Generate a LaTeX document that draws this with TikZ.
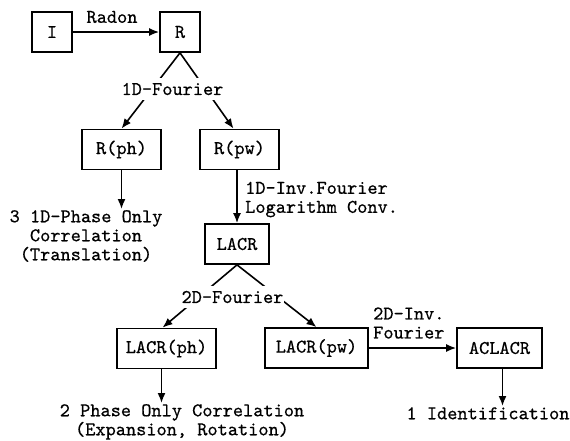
\documentclass[tikz,border=0pt]{standalone}
\usepackage{fontspec}
\setmonofont{lmmono10-regular.otf}[FakeBold=0.5]
\usetikzlibrary{arrows.meta}
\tikzset{
  txt/.style={font=\ttfamily\fontsize{19.4}{19}\selectfont},
  blk/.style={txt, draw, line width=1.7pt, minimum height=40pt, minimum width=40pt, inner xsep=9pt},
  lbl/.style={txt, inner sep=1pt},
  cut/.style={lbl, fill=white, minimum height=22pt},
  flow/.style={line width=1.6pt, -{Latex[length=10pt,width=8pt]}}
}

\begin{document}
\begin{tikzpicture}[x=1pt, y=-1pt]
  \useasboundingbox (0,0) rectangle (570,440);
  \node[blk] (I) at (52,32) {I};
  \node[blk] (R) at (180,32) {R};
  \node[blk, minimum width=79pt] (Rph) at (121.5,149.5) {R(ph)};
  \node[blk, minimum width=79pt] (Rpw) at (239.5,149.5) {R(pw)};
  \node[blk, minimum width=64pt] (LACR) at (237,244) {LACR};
  \node[blk, minimum width=99pt] (LACRph) at (166.5,348.5) {LACR(ph)};
  \node[blk, minimum width=103pt] (LACRpw) at (316.5,348) {LACR(pw)};
  \node[blk, minimum width=85pt] (ACLACR) at (499.5,348) {ACLACR};

  \node[lbl] (radon) at (112,17) {Radon};
  \node[lbl, anchor=west, align=left] (inv1) at (244,199.5) {1D-Inv.Fourier\\Logarithm Conv.};
  \node[lbl, anchor=north, align=center] (res3) at (86,209) {3 1D-Phase Only\\Correlation\\(Translation)};
  \node[lbl, anchor=west, align=left] (inv2) at (372,323) {2D-Inv.\\Fourier};
  \node[lbl, anchor=north, align=center] (res2) at (182,403) {2 Phase Only Correlation\\(Expansion, Rotation)};
  \node[lbl, anchor=north] (res1) at (488,406) {1 Identification};

  \path[flow]
    (I) edge (R)
    (R.south) edge (Rph.north)
    (R.south) edge ([xshift=-6pt]Rpw.north)
    (Rph) edge (Rph |- res3.north)
    (LACR |- Rpw.south) edge (LACR)
    (LACR.south) edge ([xshift=-4pt]LACRph.north)
    (LACR.south) edge (LACRpw.north)
    ([xshift=-5pt]LACRph.south) edge ([xshift=-5pt]LACRph.south |- res2.north)
    (LACRpw) edge (ACLACR)
    ([xshift=3pt]ACLACR.south) edge ([xshift=3pt]ACLACR.south |- res1.north)
  ;

  \node[cut] (f1) at (172.5,89) {1D-Fourier};
  \node[cut] (f2) at (232.5,297) {2D-Fourier};
\end{tikzpicture}
\end{document}
